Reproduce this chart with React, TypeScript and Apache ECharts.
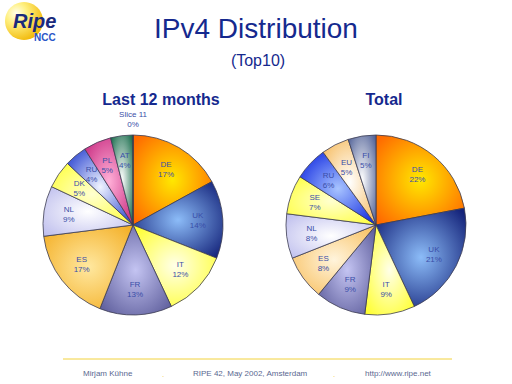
import React, { useEffect, useRef } from "react";
import * as echarts from "echarts";

const leftNames = ["DE", "UK", "IT", "FR", "ES", "NL", "DK", "RU", "PL", "AT", "Slice 11"];
const leftValues = [17, 14, 12, 13, 17, 9, 5, 4, 5, 4, 0];
const rightNames = ["DE", "UK", "IT", "FR", "ES", "NL", "SE", "RU", "EU", "FI"];
const rightValues = [22, 21, 9, 9, 8, 8, 7, 6, 5, 5];

const titleText = "IPv4 Distribution";
const subtitleText = "(Top10)";
const leftTitle = "Last 12 months";
const rightTitle = "Total";
const footerTexts = ["Mirjam Kühne", "RIPE 42, May 2002, Amsterdam", "http://www.ripe.net"];

// [edge, center] gradient colours per country
const palette: Record<string, [string, string]> = {
  DE: ["#ff6a00", "#ffe800"],
  UK: ["#14237a", "#8cbcf8"],
  IT: ["#ffff30", "#ffffe8"],
  FR: ["#5e5e9c", "#c4c4f2"],
  ES: ["#f4b028", "#ffe8a0"],
  NL: ["#c0c0ee", "#ffffff"],
  DK: ["#ffff40", "#ffffd0"],
  SE: ["#ffff40", "#ffffd0"],
  RU: ["#2a44d0", "#f0f4ff"],
  PL: ["#c82c80", "#ffb0d8"],
  AT: ["#1e7050", "#ffffff"],
  EU: ["#f6bc60", "#ffffff"],
  FI: ["#56669a", "#ffffff"],
  "Slice 11": ["#808080", "#c0c0c0"],
};
const rightOverride: Record<string, [string, string]> = {
  ES: ["#f8c060", "#fff4dc"],
  RU: ["#1028e0", "#a8c4ff"],
};

const FONT = "Liberation Sans";
const labelColor = "#3a4ea8";
const navy = "#15298e";

function grad(c: [string, string]) {
  return new echarts.graphic.RadialGradient(0.5, 0.5, 0.65, [
    { offset: 0, color: c[1] },
    { offset: 1, color: c[0] },
  ]);
}

export default function App() {
  const ref = useRef<HTMLDivElement>(null);
  useEffect(() => {
    if (!ref.current) return;
    const chart = echarts.init(ref.current, null, { renderer: "svg" });
    const fmt = (p: any) => `${p.name}\n${Math.round(p.percent)}%`;
    const labelStyle = {
      color: labelColor,
      fontFamily: FONT,
      fontSize: 8,
      lineHeight: 10,
    };
    const leftData = leftNames.map((n, i) => ({
      name: n,
      value: leftValues[i],
      itemStyle: { color: grad(palette[n]) },
    }));
    const rightData = rightNames.map((n, i) => ({
      name: n,
      value: rightValues[i],
      itemStyle: { color: grad(rightOverride[n] || palette[n]) },
    }));
    const base = {
      type: "pie",
      startAngle: 90,
      clockwise: true,
      silent: true,
      avoidLabelOverlap: false,
      stillShowZeroSum: true,
    };
    const pieSeries = (center: number[], data: any[]) => ({
      ...base,
      center,
      radius: [0, 90],
      data,
      label: { show: false },
      labelLine: { show: false },
      itemStyle: { borderColor: "#3c3c52", borderWidth: 0.8 },
    });
    const labelSeries = (center: number[], names: string[], values: number[]) => ({
      ...base,
      center,
      radius: [34, 90],
      data: names.map((n, i) => ({
        name: n,
        value: values[i],
        label: { show: values[i] > 0 },
      })),
      itemStyle: { color: "rgba(0,0,0,0)", borderWidth: 0 },
      label: { show: true, position: "inside", formatter: fmt, ...labelStyle },
      labelLine: { show: false },
    });
    const zeroLabelSeries = {
      ...base,
      center: [133, 225],
      radius: [94, 112],
      data: leftNames.map((n, i) => ({
        name: n,
        value: leftValues[i],
        label: { show: leftValues[i] === 0 },
      })),
      itemStyle: { color: "rgba(0,0,0,0)", borderWidth: 0 },
      label: { show: true, position: "inside", formatter: fmt, ...labelStyle },
      labelLine: { show: false },
    };

    chart.setOption({
      animation: false,
      backgroundColor: "#ffffff",
      series: [
        pieSeries([133, 225], leftData),
        labelSeries([133, 225], leftNames, leftValues),
        zeroLabelSeries,
        pieSeries([376, 225], rightData),
        labelSeries([376, 225], rightNames, rightValues),
      ],
      graphic: [
        {
          type: "circle",
          shape: { cx: 24, cy: 21, r: 19 },
          style: {
            fill: new echarts.graphic.RadialGradient(0.3, 0.3, 0.8, [
              { offset: 0, color: "#fffff0" },
              { offset: 0.35, color: "#fff080" },
              { offset: 1, color: "#f0b400" },
            ]),
          },
        },
        {
          type: "text",
          x: 13,
          y: 21,
          style: {
            text: "Ripe",
            fontFamily: FONT,
            fontSize: 20,
            fontWeight: "bold",
            fontStyle: "italic",
            fill: "#1a2a7c",
            verticalAlign: "middle",
          },
        },
        {
          type: "text",
          x: 34,
          y: 37,
          style: {
            text: "NCC",
            fontFamily: FONT,
            fontSize: 10,
            fontWeight: "bold",
            fill: "#2a56c8",
            verticalAlign: "middle",
          },
        },
        {
          type: "text",
          x: 256,
          y: 28,
          style: {
            text: titleText,
            fontFamily: FONT,
            fontSize: 28,
            fill: navy,
            align: "center",
            verticalAlign: "middle",
          },
        },
        {
          type: "text",
          x: 258,
          y: 60,
          style: {
            text: subtitleText,
            fontFamily: FONT,
            fontSize: 16,
            fill: navy,
            align: "center",
            verticalAlign: "middle",
          },
        },
        {
          type: "text",
          x: 161,
          y: 99,
          style: {
            text: leftTitle,
            fontFamily: FONT,
            fontSize: 16,
            fontWeight: "bold",
            fill: navy,
            align: "center",
            verticalAlign: "middle",
          },
        },
        {
          type: "text",
          x: 384,
          y: 99,
          style: {
            text: rightTitle,
            fontFamily: FONT,
            fontSize: 16,
            fontWeight: "bold",
            fill: navy,
            align: "center",
            verticalAlign: "middle",
          },
        },
        {
          type: "line",
          shape: { x1: 63, y1: 359, x2: 452, y2: 359 },
          style: { stroke: "#f2d23c", lineWidth: 1 },
        },
        {
          type: "text",
          x: 83,
          y: 373,
          style: { text: footerTexts[0], fontFamily: FONT, fontSize: 8, fill: "#5a6890", verticalAlign: "middle" },
        },
        {
          type: "text",
          x: 193,
          y: 373,
          style: { text: footerTexts[1], fontFamily: FONT, fontSize: 8, fill: "#5a6890", verticalAlign: "middle" },
        },
        {
          type: "text",
          x: 365,
          y: 373,
          style: { text: footerTexts[2], fontFamily: FONT, fontSize: 8, fill: "#5a6890", verticalAlign: "middle" },
        },
        {
          type: "text",
          x: 162,
          y: 374,
          style: { text: ".", fontFamily: FONT, fontSize: 8, fill: "#f2c83c", verticalAlign: "middle" },
        },
        {
          type: "text",
          x: 333,
          y: 374,
          style: { text: ".", fontFamily: FONT, fontSize: 8, fill: "#f2c83c", verticalAlign: "middle" },
        },
      ],
    });
    return () => chart.dispose();
  }, []);
  return (
    <div
      ref={ref}
      style={{ position: "fixed", left: 0, top: 0, width: 512, height: 384, background: "#fff" }}
    />
  );
}
